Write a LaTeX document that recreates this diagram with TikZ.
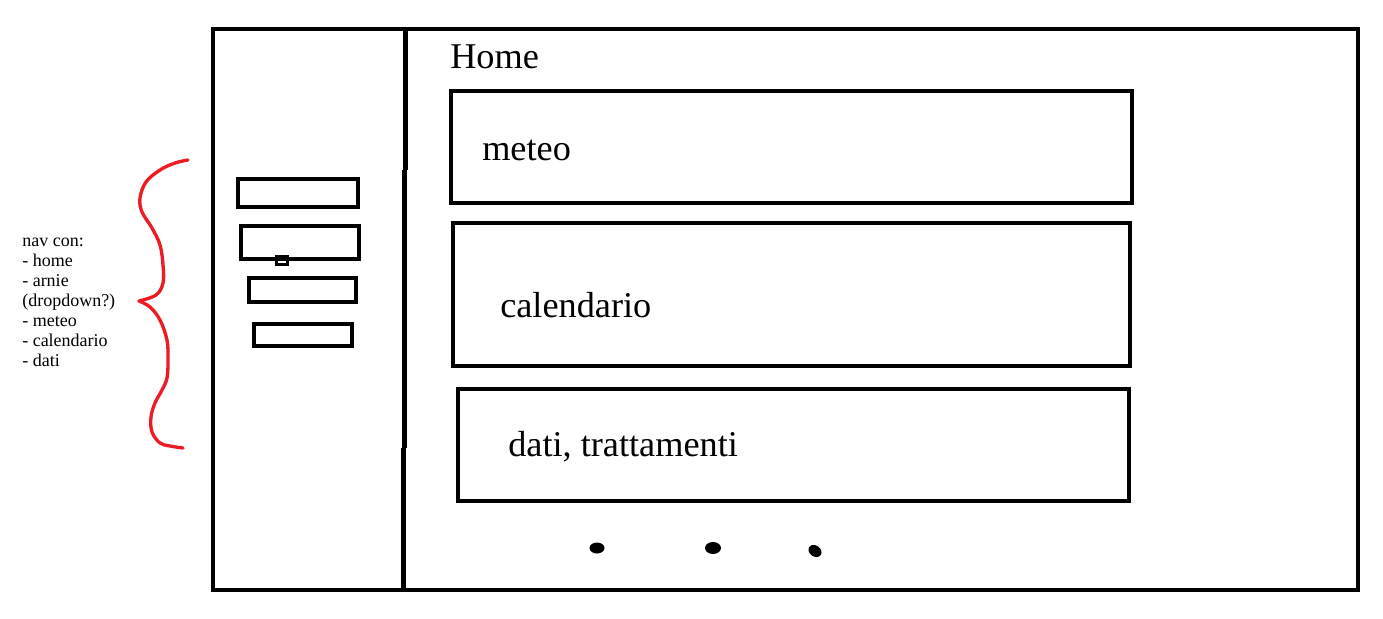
\documentclass[tikz,border=0pt]{standalone}
\usepackage{fontspec}
\setmainfont{Liberation Serif}
\definecolor{paintred}{RGB}{237,28,36}
\begin{document}
\begin{tikzpicture}[x=0.75pt,y=-0.75pt,
  frame/.style={draw=black,line width=3.3pt},
  panel/.style={draw=black,line width=3.3pt},
  navbox/.style={draw=black,line width=2.4pt},
  tinybox/.style={draw=black,line width=1.9pt},
  brace/.style={draw=paintred,line width=2.5pt,line cap=round,line join=round},
  big/.style={anchor=base west,inner sep=0pt,font=\fontsize{27.2}{30}\selectfont},
  note/.style={anchor=north west,inner sep=0pt,align=left,font=\fontsize{13.5}{15}\selectfont},
  dot/.style={fill=black,draw=none}]
\useasboundingbox (0,0) rectangle (1383,618);
% outer frame
\draw[frame] (213,29) rectangle (1358,590);
% divider (three slightly offset strokes)
\coordinate (d1) at (405.5,29);
\coordinate (d2) at (405.5,170);
\coordinate (d3) at (404.3,170);
\coordinate (d4) at (404.3,448);
\coordinate (d5) at (403.3,448);
\coordinate (d6) at (403.3,590);
\draw[frame,line cap=butt] (d1) -- (d2);
\draw[frame,line cap=butt] (d3) -- (d4);
\draw[frame,line cap=butt] (d5) -- (d6);
% nav boxes
\draw[navbox] (238,179) rectangle (358,207);
\draw[navbox] (241,226) rectangle (359,259);
\draw[tinybox] (276.5,256) rectangle (287.5,264.5);
\draw[navbox] (249,278) rectangle (356,302);
\draw[navbox] (254,324) rectangle (352,346);
% main panels
\draw[panel] (451,91) rectangle (1132,203);
\draw[panel] (453,223) rectangle (1130,366);
\draw[panel] (458,389) rectangle (1129,501);
% texts
\node[big] (home) at (450,68) {Home};
\node[big] (meteo) at (482,160) {meteo};
\node[big] (cal) at (500,317) {calendario};
\node[big] (dati) at (508,456) {dati, trattamenti};
\node[note] (nav) at (22,238) {nav con:\\- home\\- arnie\\(dropdown?)\\- meteo\\- calendario\\- dati};
% red brace
\draw[brace] plot[smooth,tension=0.6] coordinates {(188,160) (175,163) (160,170) (146,182) (140,198) (142,212) (152,228) (160,245) (163,265) (163,283) (156,295) (139,301)};
\draw[brace] plot[smooth,tension=0.6] coordinates {(139,301) (150,307) (160,320) (167,340) (168,360) (167,378) (162,390) (155,403) (151,417) (152,432) (160,443) (170,446) (183,448)};
% dots
\fill[dot] (597,548) ellipse [x radius=7.5,y radius=5.5];
\fill[dot] (713,548) ellipse [x radius=8,y radius=6];
\fill[dot,rotate around={-35:(815,551)}] (815,551) ellipse [x radius=7,y radius=5.5];
\end{tikzpicture}
\end{document}
